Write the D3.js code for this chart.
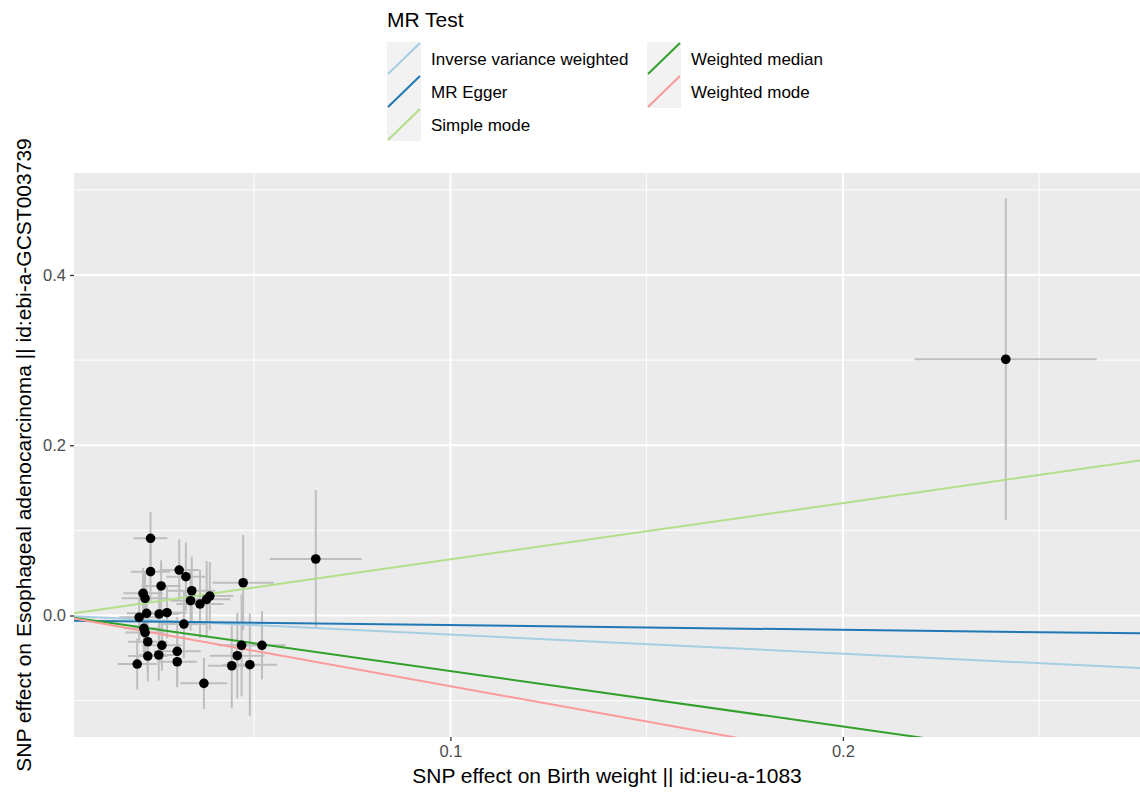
<!DOCTYPE html>
<html><head><meta charset="utf-8">
<script src="https://cdn.jsdelivr.net/npm/d3@7"></script>
<style>body{margin:0;background:#fff;} text{font-family:"Liberation Sans",Arial,sans-serif;}</style>
</head><body>
<svg id="chart" width="1140" height="792"></svg>
<script>
// Data
const snpX = [0.0236,0.0236,0.0309,0.0326,0.0263,0.0217,0.0222,0.0341,0.0338,0.0362,0.0379,0.0387,0.0472,0.0226,0.0258,0.0278,0.0207,0.0321,0.0219,0.0222,0.0229,0.0265,0.0229,0.0257,0.0304,0.0304,0.0202,0.0372,0.0468,0.0520,0.0457,0.0443,0.0489,0.0657,0.2415];
const snpY = [0.0907,0.0515,0.0534,0.0456,0.0347,0.0261,0.0202,0.0291,0.0174,0.0135,0.0190,0.0229,0.0385,0.0026,0.0018,0.0033,-0.0021,-0.0100,-0.0150,-0.0200,-0.0308,-0.0350,-0.0476,-0.0464,-0.0420,-0.0543,-0.0570,-0.0797,-0.0350,-0.0350,-0.0472,-0.0590,-0.0578,0.0664,0.3010];
const seX = [0.0043,0.005,0.005,0.005,0.005,0.005,0.006,0.006,0.005,0.006,0.006,0.006,0.0078,0.005,0.005,0.005,0.005,0.006,0.005,0.005,0.005,0.005,0.005,0.005,0.006,0.005,0.005,0.006,0.006,0.006,0.007,0.006,0.007,0.0117,0.0232];
const seY = [0.031,0.035,0.036,0.040,0.030,0.030,0.030,0.040,0.035,0.040,0.045,0.040,0.056,0.030,0.035,0.030,0.030,0.040,0.030,0.030,0.035,0.030,0.030,0.030,0.040,0.030,0.030,0.030,0.060,0.040,0.050,0.050,0.060,0.081,0.189];

const methods = ["Inverse variance weighted","MR Egger","Simple mode","Weighted median","Weighted mode"];
const methodColors = ["#a6cee3","#1f78b4","#b2df8a","#33a02c","#fb9a99"];
const slopes = [-0.224,-0.055,0.66,-0.652,-0.83];
const intercepts = [0,-0.0058,0,0,0];

const xTicks = [0.1,0.2];
const xMinor = [0.05,0.15,0.25];
const yTicks = [0.0,0.2,0.4];
const yMinor = [-0.1,0.1,0.3,0.5];
const xDomain = [0.0041,0.2757];
const yDomain = [-0.1427,0.5198];

const svg = d3.select("#chart");
const L = 74, R = 1140, T = 173, B = 737;
const x = d3.scaleLinear().domain(xDomain).range([L,R]);
const y = d3.scaleLinear().domain(yDomain).range([B,T]);

svg.append("defs").append("clipPath").attr("id","clip")
  .append("rect").attr("x",L).attr("y",T).attr("width",R-L).attr("height",B-T);

svg.append("rect").attr("x",L).attr("y",T).attr("width",R-L).attr("height",B-T).attr("fill","#ebebeb");

const grid = svg.append("g");
grid.selectAll(".xm").data(xMinor).join("line").attr("x1",d=>x(d)).attr("x2",d=>x(d)).attr("y1",T).attr("y2",B).attr("stroke","#fff").attr("stroke-width",1);
grid.selectAll(".ym").data(yMinor).join("line").attr("y1",d=>y(d)).attr("y2",d=>y(d)).attr("x1",L).attr("x2",R).attr("stroke","#fff").attr("stroke-width",1);
grid.selectAll(".xM").data(xTicks).join("line").attr("x1",d=>x(d)).attr("x2",d=>x(d)).attr("y1",T).attr("y2",B).attr("stroke","#fff").attr("stroke-width",2);
grid.selectAll(".yM").data(yTicks).join("line").attr("y1",d=>y(d)).attr("y2",d=>y(d)).attr("x1",L).attr("x2",R).attr("stroke","#fff").attr("stroke-width",2);

const plot = svg.append("g").attr("clip-path","url(#clip)");
const idx = d3.range(snpX.length);
// error bars
plot.selectAll(".ev").data(idx).join("line")
  .attr("x1",i=>x(snpX[i])).attr("x2",i=>x(snpX[i]))
  .attr("y1",i=>y(snpY[i]-seY[i])).attr("y2",i=>y(snpY[i]+seY[i]))
  .attr("stroke","#bebebe").attr("stroke-width",2);
plot.selectAll(".eh").data(idx).join("line")
  .attr("y1",i=>y(snpY[i])).attr("y2",i=>y(snpY[i]))
  .attr("x1",i=>x(snpX[i]-seX[i])).attr("x2",i=>x(snpX[i]+seX[i]))
  .attr("stroke","#bebebe").attr("stroke-width",2);
// regression lines
plot.selectAll(".ab").data(d3.range(methods.length)).join("line")
  .attr("x1",x(xDomain[0])).attr("x2",x(xDomain[1]))
  .attr("y1",i=>y(intercepts[i]+slopes[i]*xDomain[0]))
  .attr("y2",i=>y(intercepts[i]+slopes[i]*xDomain[1]))
  .attr("stroke",i=>methodColors[i]).attr("stroke-width",2);
// points
plot.selectAll(".pt").data(idx).join("circle")
  .attr("cx",i=>x(snpX[i])).attr("cy",i=>y(snpY[i])).attr("r",4.8).attr("fill","#000");

// axes
const xAxis = svg.append("g").attr("transform",`translate(0,${B})`)
  .call(d3.axisBottom(x).tickValues(xTicks).tickSize(4).tickPadding(4).tickFormat(d3.format(".1f")));
const yAxis = svg.append("g").attr("transform",`translate(${L},0)`)
  .call(d3.axisLeft(y).tickValues(yTicks).tickSize(4).tickPadding(4).tickFormat(d3.format(".1f")));
[xAxis,yAxis].forEach(a=>{
  a.select(".domain").remove();
  a.selectAll(".tick line").attr("stroke","#333").attr("stroke-width",1.3);
  a.selectAll(".tick text").attr("fill","#4d4d4d").style("font-size","16.5px").style("font-family","Liberation Sans, Arial, sans-serif");
});

svg.append("text").attr("x",(L+R)/2).attr("y",783).attr("text-anchor","middle")
  .style("font-size","21px").attr("fill","#000").text("SNP effect on Birth weight || id:ieu-a-1083");
svg.append("text").attr("transform",`translate(31,${(T+B)/2}) rotate(-90)`).attr("text-anchor","middle")
  .style("font-size","21px").attr("fill","#000").text("SNP effect on Esophageal adenocarcinoma || id:ebi-a-GCST003739");

// legend
const lg = svg.append("g");
lg.append("text").attr("x",387).attr("y",27).style("font-size","21px").attr("fill","#000").text("MR Test");
const legendPos = [[387,42],[387,75],[387,108],[647,42],[647,75]];
const legendOrder = [0,1,2,3,4];
legendOrder.forEach((m,k)=>{
  const [lx,ly] = legendPos[k];
  lg.append("rect").attr("x",lx).attr("y",ly).attr("width",34).attr("height",33).attr("fill","#f2f2f2");
  lg.append("line").attr("x1",lx+1).attr("y1",ly+32).attr("x2",lx+33).attr("y2",ly+1)
    .attr("stroke",methodColors[m]).attr("stroke-width",2);
  lg.append("text").attr("x",lx+44).attr("y",ly+23).style("font-size","17px").attr("fill","#000").text(methods[m]);
});
</script>
</body></html>
